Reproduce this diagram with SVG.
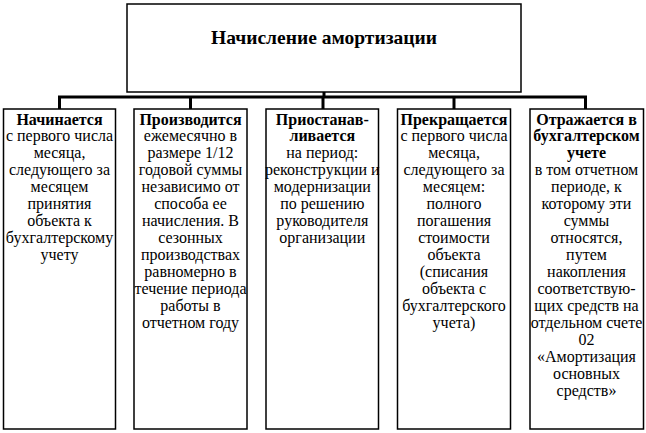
<svg xmlns="http://www.w3.org/2000/svg" width="646" height="433" viewBox="0 0 646 433">
<style>
.box{fill:#fff;stroke:#000;stroke-width:1.5}
.t{font-family:'Liberation Serif','DejaVu Serif',serif;font-size:16px;text-anchor:middle;fill:#000}
.b{font-weight:bold}
.title{font-family:'Liberation Serif','DejaVu Serif',serif;font-size:19.5px;font-weight:bold;text-anchor:middle;fill:#000}
.conn{fill:none;stroke:#000;stroke-width:3}
</style>
<rect width="646" height="433" fill="#fff"/>
<g id="connectors">
<line class="conn" x1="324" y1="92" x2="324" y2="97"/>
<polyline class="conn" points="59.5,109 59.5,97 585.5,97 585.5,109"/>
<line class="conn" x1="190.5" y1="97" x2="190.5" y2="109"/>
<line class="conn" x1="323" y1="97" x2="323" y2="109"/>
<line class="conn" x1="454" y1="97" x2="454" y2="109"/>
</g>
<g id="root">
<rect class="box" x="127" y="4" width="394" height="88"/>
<text class="title" x="324" y="44">Начисление амортизации</text>
</g>
<g id="n1">
<rect class="box" x="3.5" y="109" width="112" height="320"/>
<text class="t" x="59.5" y="124.5"><tspan class="b">Начинается</tspan><tspan x="59.5" dy="16.95">с первого числа</tspan><tspan x="59.5" dy="16.95">месяца,</tspan><tspan x="59.5" dy="16.95">следующего за</tspan><tspan x="59.5" dy="16.95">месяцем</tspan><tspan x="59.5" dy="16.95">принятия</tspan><tspan x="59.5" dy="16.95">объекта к</tspan><tspan x="59.5" dy="16.95">бухгалтерскому</tspan><tspan x="59.5" dy="16.95">учету</tspan></text>
</g>
<g id="n2">
<rect class="box" x="134" y="109" width="113" height="320"/>
<text class="t" x="190.5" y="124.5"><tspan class="b">Производится</tspan><tspan x="190.5" dy="16.95">ежемесячно в</tspan><tspan x="190.5" dy="16.95">размере 1/12</tspan><tspan x="190.5" dy="16.95">годовой суммы</tspan><tspan x="190.5" dy="16.95">независимо от</tspan><tspan x="190.5" dy="16.95">способа ее</tspan><tspan x="190.5" dy="16.95">начисления. В</tspan><tspan x="190.5" dy="16.95">сезонных</tspan><tspan x="190.5" dy="16.95">производствах</tspan><tspan x="190.5" dy="16.95">равномерно в</tspan><tspan x="190.5" dy="16.95">течение периода</tspan><tspan x="190.5" dy="16.95">работы в</tspan><tspan x="190.5" dy="16.95">отчетном году</tspan></text>
</g>
<g id="n3">
<rect class="box" x="266" y="109" width="112.5" height="320"/>
<text class="t" x="322.3" y="124.5"><tspan class="b">Приостанав-</tspan><tspan x="322.3" dy="16.95" class="b">ливается</tspan><tspan x="322.3" dy="16.95">на период:</tspan><tspan x="322.3" dy="16.95">реконструкции и</tspan><tspan x="322.3" dy="16.95">модернизации</tspan><tspan x="322.3" dy="16.95">по решению</tspan><tspan x="322.3" dy="16.95">руководителя</tspan><tspan x="322.3" dy="16.95">организации</tspan></text>
</g>
<g id="n4">
<rect class="box" x="397.5" y="109" width="113" height="320"/>
<text class="t" x="454" y="124.5"><tspan class="b">Прекращается</tspan><tspan x="454" dy="16.95">с первого числа</tspan><tspan x="454" dy="16.95">месяца,</tspan><tspan x="454" dy="16.95">следующего за</tspan><tspan x="454" dy="16.95">месяцем:</tspan><tspan x="454" dy="16.95">полного</tspan><tspan x="454" dy="16.95">погашения</tspan><tspan x="454" dy="16.95">стоимости</tspan><tspan x="454" dy="16.95">объекта</tspan><tspan x="454" dy="16.95">(списания</tspan><tspan x="454" dy="16.95">объекта с</tspan><tspan x="454" dy="16.95">бухгалтерского</tspan><tspan x="454" dy="16.95">учета)</tspan></text>
</g>
<g id="n5">
<rect class="box" x="530" y="109" width="113.5" height="320"/>
<text class="t" x="586.5" y="124.5"><tspan class="b">Отражается в</tspan><tspan x="586.5" dy="16.95" class="b">бухгалтерском</tspan><tspan x="586.5" dy="16.95" class="b">учете</tspan><tspan x="586.5" dy="16.95">в том отчетном</tspan><tspan x="586.5" dy="16.95">периоде, к</tspan><tspan x="586.5" dy="16.95">которому эти</tspan><tspan x="586.5" dy="16.95">суммы</tspan><tspan x="586.5" dy="16.95">относятся,</tspan><tspan x="586.5" dy="16.95">путем</tspan><tspan x="586.5" dy="16.95">накопления</tspan><tspan x="586.5" dy="16.95">соответствую-</tspan><tspan x="586.5" dy="16.95">щих средств на</tspan><tspan x="586.5" dy="16.95">отдельном счете</tspan><tspan x="586.5" dy="16.95">02</tspan><tspan x="586.5" dy="16.95">«Амортизация</tspan><tspan x="586.5" dy="16.95">основных</tspan><tspan x="586.5" dy="16.95">средств»</tspan></text>
</g>
</svg>
